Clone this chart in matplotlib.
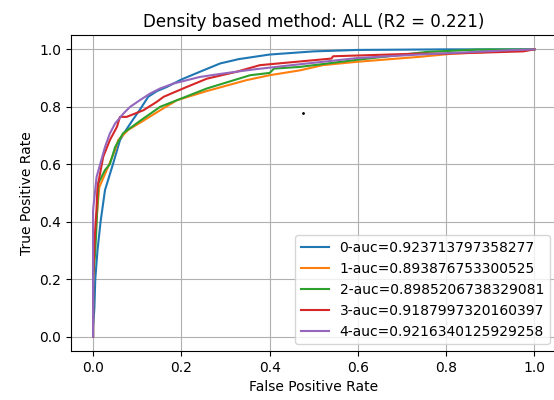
import matplotlib
matplotlib.use("Agg")
import matplotlib.pyplot as plt

# ROC curves (fpr, tpr)
fpr_0 = [0, 0.0, 0.003, 0.005, 0.01, 0.017, 0.027, 0.034, 0.045, 0.061, 0.075, 0.088, 0.106,
         0.125, 0.145, 0.167, 0.2, 0.242, 0.288, 0.33, 0.4, 0.5, 0.6, 0.8, 1.0]
tpr_0 = [0, 0.03, 0.1, 0.2, 0.3, 0.4, 0.51, 0.545, 0.6, 0.684, 0.72, 0.75, 0.79,
         0.835, 0.855, 0.869, 0.895, 0.922, 0.951, 0.966, 0.982, 0.993, 0.998, 1.0, 1.0]

fpr_1 = [0, 0.0, 0.005, 0.01, 0.014, 0.031, 0.05, 0.057, 0.079, 0.11, 0.152, 0.19, 0.258,
         0.348, 0.4, 0.469, 0.52, 0.6, 0.74, 0.815, 0.975, 1.0]
tpr_1 = [0, 0.2, 0.35, 0.45, 0.52, 0.58, 0.65, 0.684, 0.719, 0.748, 0.788, 0.823, 0.855,
         0.893, 0.91, 0.927, 0.945, 0.957, 0.974, 0.985, 0.997, 1.0]

fpr_2 = [0, 0.0, 0.005, 0.007, 0.012, 0.027, 0.038, 0.05, 0.068, 0.11, 0.152, 0.258,
         0.356, 0.4, 0.41, 0.469, 0.6, 0.756, 0.869, 1.0]
tpr_2 = [0, 0.2, 0.3, 0.36, 0.534, 0.58, 0.6, 0.66, 0.708, 0.755, 0.8, 0.864,
         0.91, 0.918, 0.933, 0.939, 0.964, 0.991, 0.999, 1.0]

fpr_3 = [0, 0.0, 0.004, 0.008, 0.01, 0.023, 0.038, 0.054, 0.061, 0.076, 0.114, 0.144, 0.16,
         0.212, 0.258, 0.325, 0.378, 0.54, 0.544, 0.733, 0.8, 0.975, 1.0]
tpr_3 = [0, 0.2, 0.35, 0.45, 0.52, 0.626, 0.684, 0.73, 0.765, 0.765, 0.788, 0.817, 0.835,
         0.869, 0.898, 0.922, 0.945, 0.968, 0.976, 0.985, 0.985, 0.993, 1.0]

fpr_4 = [0, 0.0, 0.0, 0.008, 0.027, 0.038, 0.05, 0.069, 0.084, 0.106, 0.129, 0.152, 0.182,
         0.242, 0.295, 0.363, 0.45, 0.6, 0.74, 0.945, 1.0]
tpr_4 = [0, 0.25, 0.44, 0.556, 0.66, 0.707, 0.742, 0.777, 0.8, 0.823, 0.846, 0.864, 0.881,
         0.904, 0.916, 0.93, 0.945, 0.97, 0.982, 0.997, 1.0]

auc_labels = ["0-auc=0.923713797358277", "1-auc=0.893876753300525",
              "2-auc=0.8985206738329081", "3-auc=0.9187997320160397",
              "4-auc=0.9216340125929258"]

# stray point visible in the picture
dot_x = [0.476]
dot_y = [0.778]

fig = plt.figure(figsize=(5.54, 4.0), dpi=100)
ax = fig.add_axes([71 / 554, 1 - 351 / 400, (556.5 - 71) / 554, (351 - 35) / 400])

curves = [(fpr_0, tpr_0), (fpr_1, tpr_1), (fpr_2, tpr_2), (fpr_3, tpr_3), (fpr_4, tpr_4)]
for (fx, ty), lab in zip(curves, auc_labels):
    ax.plot(fx, ty, label=lab, linewidth=1.5)

ax.plot(dot_x, dot_y, 'k.', markersize=2)

ax.set_xlim(-0.05, 1.05)
ax.set_ylim(-0.05, 1.05)
ax.set_xlabel('False Positive Rate')
ax.set_ylabel('True Positive Rate')
ax.set_title('Density based method: ALL (R2 = 0.221)')
ax.grid(True)
ax.legend(loc='lower right')

fig.savefig('out.png', dpi=100)
